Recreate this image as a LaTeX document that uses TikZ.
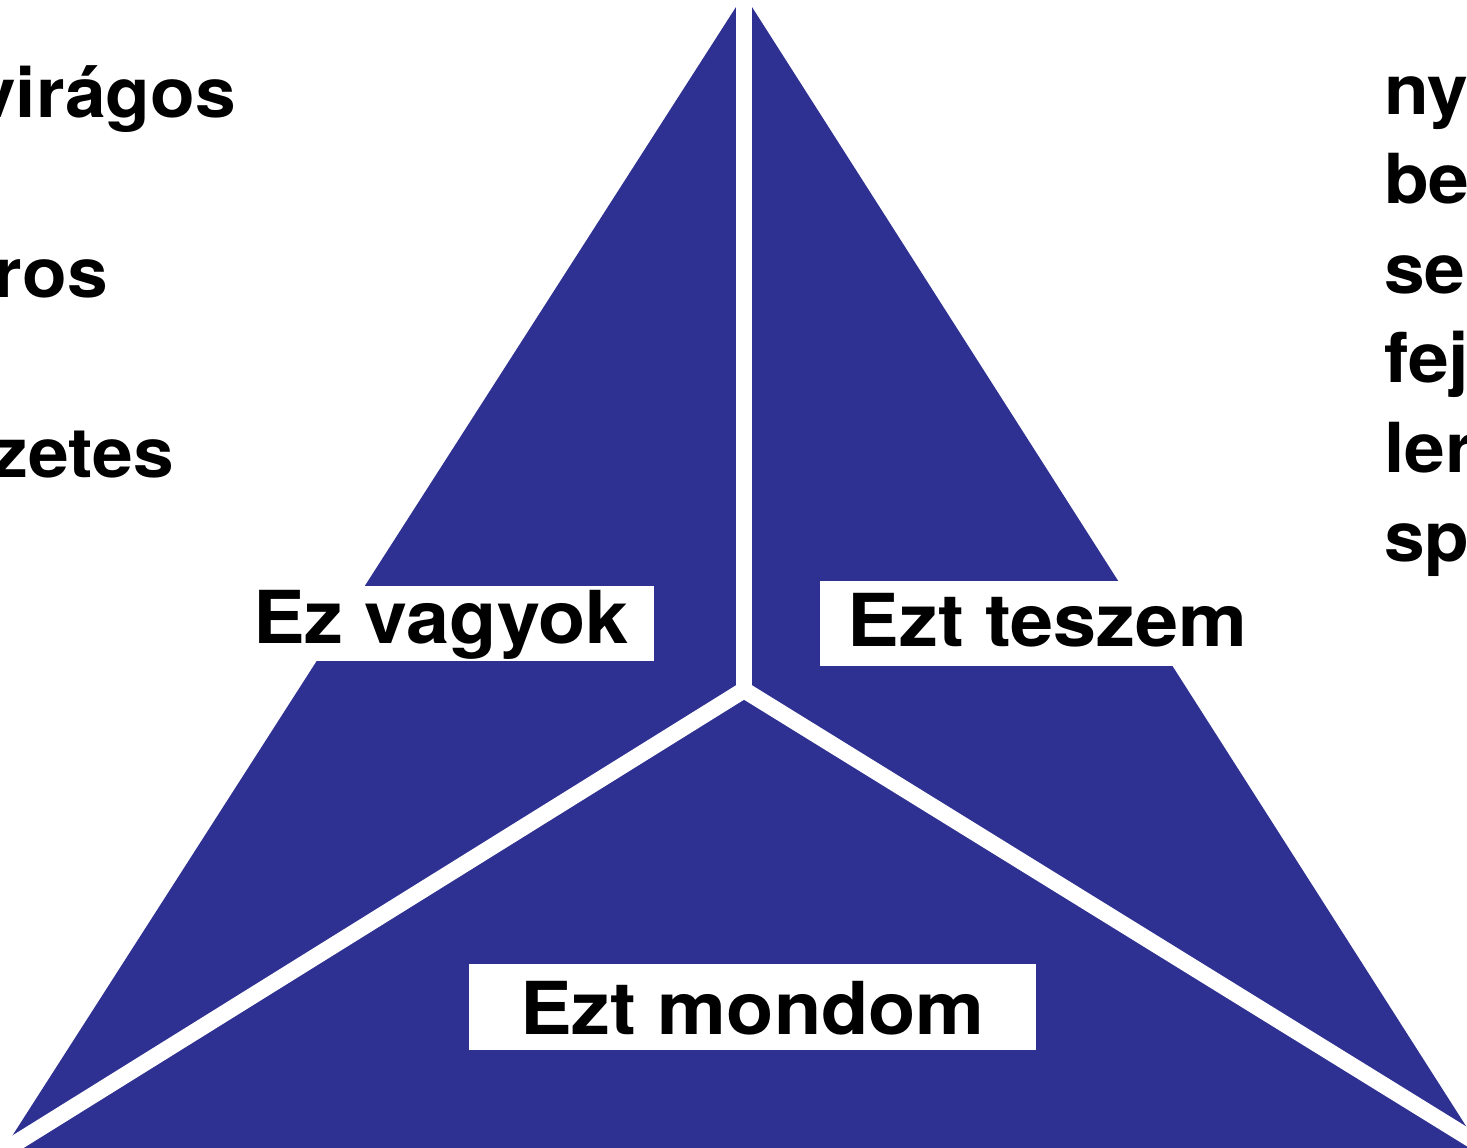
\documentclass[tikz,border=0pt]{standalone}
\usepackage{fontspec}
\newfontfamily\hfont[FakeStretch=1.06]{TeX Gyre Heros}
\definecolor{triblue}{RGB}{46,49,146}
\tikzset{
  sepline/.style={draw=white, line width=16.5pt, line join=miter, line cap=butt},
  lbox/.style={fill=white, draw=none, inner sep=0pt},
  ltext/.style={anchor=base, inner sep=0pt, text=black, font=\hfont\bfseries\fontsize{73pt}{73pt}\selectfont},
  sidel/.style={anchor=base east, inner sep=0pt, text=black, font=\hfont\bfseries\fontsize{69pt}{69pt}\selectfont},
  sider/.style={anchor=base west, inner sep=0pt, text=black, font=\hfont\bfseries\fontsize{69pt}{69pt}\selectfont}
}
\begin{document}
\begin{tikzpicture}[x=1pt,y=-1pt]
\useasboundingbox (0,0) rectangle (1467,1148);
\clip (0,0) rectangle (1467,1148);
\fill[white] (0,0) rectangle (1467,1148);
% triangle
\fill[triblue] (744,-5.5) -- (1577,1300) -- (-93,1300) -- cycle;
% separators
\coordinate (c) at (744,690);
\coordinate (top) at (744,-40);
\coordinate (bl) at (-156,1250);
\coordinate (br) at (1644,1246);
\draw[sepline] (bl) -- (c) -- (br);
\draw[sepline] (c) -- (top);
% label boxes
\node[lbox, minimum width=424pt, minimum height=75pt] (b1) at (442,623.5) {};
\node[ltext] (t1) at (441,643) {Ez vagyok};
\node[lbox, minimum width=455pt, minimum height=85pt] (b2) at (1047.5,623.5) {};
\node[ltext] (t2) at (1047.5,646) {Ezt teszem};
\node[lbox, minimum width=567pt, minimum height=86pt] (b3) at (752.5,1007) {};
\node[ltext] (t3) at (752.5,1034) {Ezt mondom};
% left side text (cropped)
\node[sidel] (l1) at (236,117) {virágos};
\node[sidel] (l2) at (108,297) {ros};
\node[sidel] (l3) at (174,477) {zetes};
% right side text (cropped)
\node[sider] (r1) at (1384,114) {ny};
\node[sider] (r2) at (1384,203.5) {be};
\node[sider] (r3) at (1384,293) {se};
\node[sider] (r4) at (1384,382.5) {fej};
\node[sider] (r5) at (1384,472) {ler};
\node[sider] (r6) at (1384,561.5) {sp};
\end{tikzpicture}
\end{document}
